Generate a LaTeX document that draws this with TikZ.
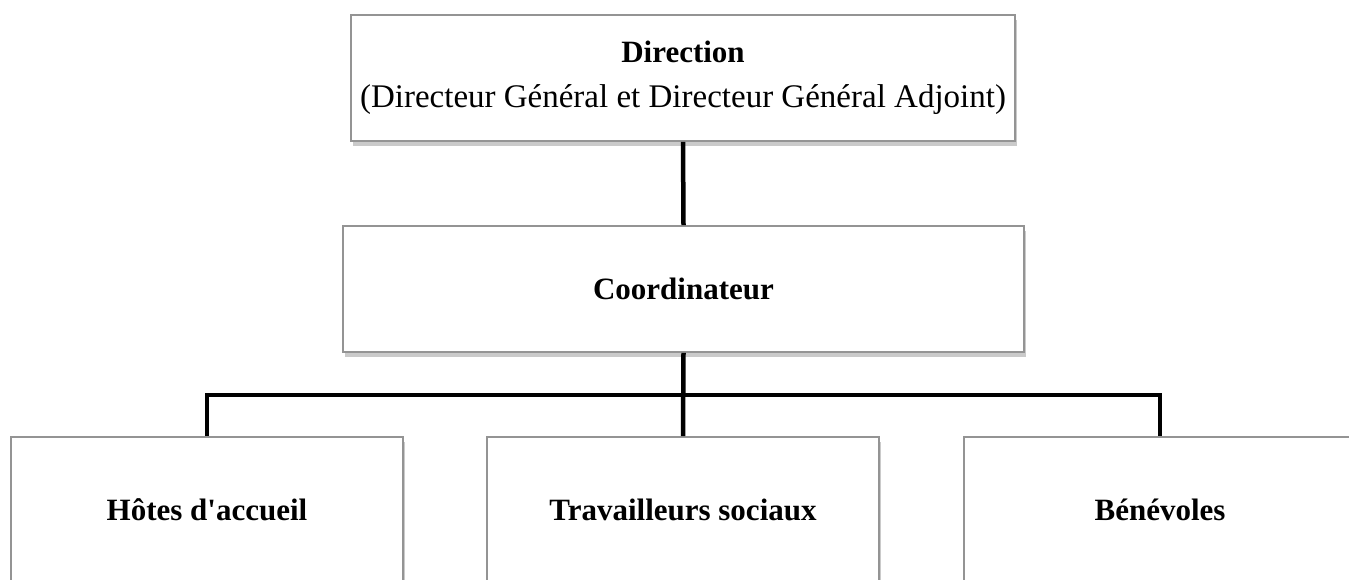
\documentclass[tikz,border=0pt]{standalone}
\usepackage{fontspec}
\setmainfont{Liberation Serif}
\usetikzlibrary{shadows}
\begin{document}
\begin{tikzpicture}[x=1pt,y=-1pt,
  orgbox/.style={rectangle, draw=black!42, line width=1.6pt, fill=white,
    inner sep=0pt, align=center,
    drop shadow={shadow xshift=2pt, shadow yshift=-5pt, fill=black!35, opacity=0.6}},
  bigtext/.style={font=\fontsize{31}{45}\selectfont},
  plaintext/.style={font=\fontsize{33}{45}\selectfont}]
\useasboundingbox (0,0) rectangle (1349,579);
\clip (0,0) rectangle (1349,579);
\node[orgbox, plaintext, minimum width=664pt, minimum height=126pt] (dir) at (683,78)
  {{\fontsize{31}{45}\selectfont\textbf{Direction}}\\(Directeur Général et Directeur Général Adjoint)};
\node[orgbox, bigtext, minimum width=681pt, minimum height=126pt] (coord) at (683.5,289)
  {\textbf{Coordinateur}};
\node[orgbox, bigtext, minimum width=392pt, minimum height=146pt] (hotes) at (207,510)
  {\textbf{Hôtes d\textquotesingle accueil}};
\node[orgbox, bigtext, minimum width=392pt, minimum height=146pt] (trav) at (683,510)
  {\textbf{Travailleurs sociaux}};
\node[orgbox, bigtext, minimum width=392pt, minimum height=146pt] (bene) at (1160,510)
  {\textbf{Bénévoles}};
\coordinate (bus) at (683,395);
\draw[line width=4.5pt] (dir.south) -- (coord.north);
\draw[line width=4.5pt, line join=miter] (coord.south) -- (trav.north);
\draw[line width=4.5pt, line join=miter] (hotes.north) -- (hotes.north |- bus) -- (bene.north |- bus) -- (bene.north);
\end{tikzpicture}
\end{document}
